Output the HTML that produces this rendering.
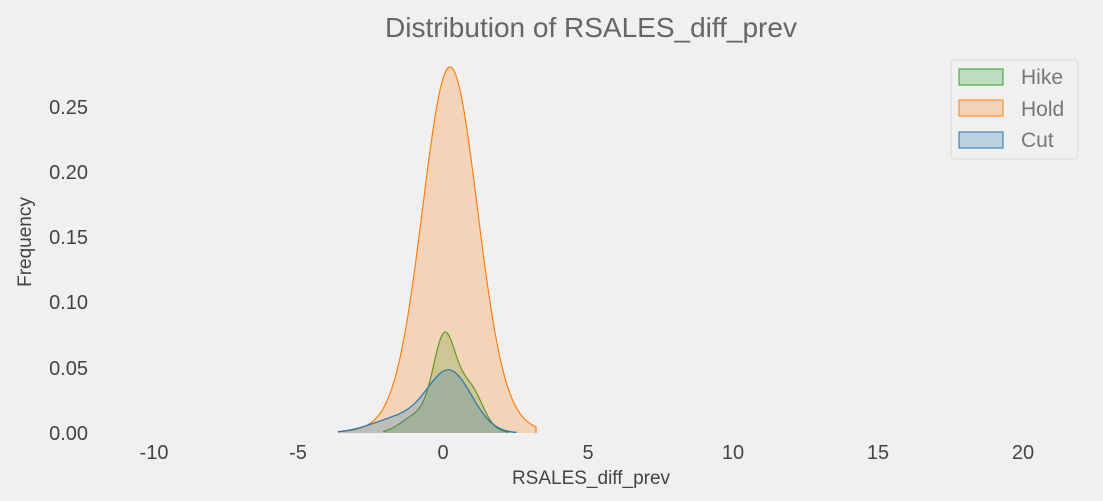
<!DOCTYPE html>
<html><head><meta charset="utf-8"><style>
html,body{margin:0;padding:0;background:#f0f0f0;}
svg{display:block;font-family:"Liberation Sans","DejaVu Sans",sans-serif;}
</style></head><body>
<svg id="s" width="1103" height="501" viewBox="0 0 1103 501">
<rect width="1103" height="501" fill="#f0f0f0"/>
<text x="591" y="37" font-size="28" fill="#666" text-anchor="middle">Distribution of RSALES_diff_prev</text>
<g font-size="20" fill="#444" text-anchor="end">
<text x="88" y="440">0.00</text><text x="88" y="375">0.05</text><text x="88" y="309">0.10</text>
<text x="88" y="244">0.15</text><text x="88" y="179">0.20</text><text x="88" y="114">0.25</text>
</g>
<g font-size="20" fill="#444" text-anchor="middle">
<text x="154" y="459">-10</text><text x="298" y="459">-5</text><text x="443" y="459">0</text>
<text x="588" y="459">5</text><text x="733" y="459">10</text><text x="878" y="459">15</text><text x="1023" y="459">20</text>
</g>
<text x="591" y="484" font-size="19" fill="#444" text-anchor="middle">RSALES_diff_prev</text>
<text transform="translate(31,242) rotate(-90)" font-size="19" fill="#444" text-anchor="middle">Frequency</text>
<g id="curves"></g>
<rect x="951" y="60" width="127" height="99" rx="4" fill="#f0f0f0" stroke="#d8d8d8"/>
<rect x="959" y="69" width="44" height="16" fill="#c0dcc0" stroke="#2ca02c"/>
<rect x="959" y="100" width="44" height="16" fill="#f3d3b7" stroke="#ff7f0e"/>
<rect x="959" y="132" width="44" height="16" fill="#bcd2e1" stroke="#1f77b4"/>
<g font-size="21" fill="#777"><text x="1021" y="84">Hike</text><text x="1021" y="116">Hold</text><text x="1021" y="147">Cut</text></g>
</svg>
<script>
function g(x,c,s,h){return h*Math.exp(-0.5*((x-c)/s)**2);}
var base=433;
var series=[
 {col:"#2ca02c",x0:383,x1:508,f:function(x){return g(x,444,10.5,62)+g(x,452,20,40)+g(x,473,11,22)+g(x,412,14,12);}},
 {col:"#ff7f0e",x0:338,x1:536,f:function(x){return g(x,450,27,340)+g(x,450,45,26);}},
 {col:"#1f77b4",x0:338,x1:516,f:function(x){return g(x,450,22,60)+g(x,400,28,15);}}
];
var out="";
series.forEach(function(s){
 var d="M"+s.x0+","+base;
 for(var x=s.x0;x<=s.x1;x+=1){var y=Math.min(base,base-s.f(x));d+=" L"+x+","+y.toFixed(2);}
 d+=" L"+s.x1+","+base;
 out+='<path d="'+d+' Z" fill="'+s.col+'" fill-opacity="0.25" stroke="none"/>';
 out+='<path d="'+d.replace(/^M[^L]+L/,"M")+'" fill="none" stroke="'+s.col+'" stroke-width="1.2"/>';
});
document.getElementById("curves").innerHTML=out;
</script>
</body></html>
